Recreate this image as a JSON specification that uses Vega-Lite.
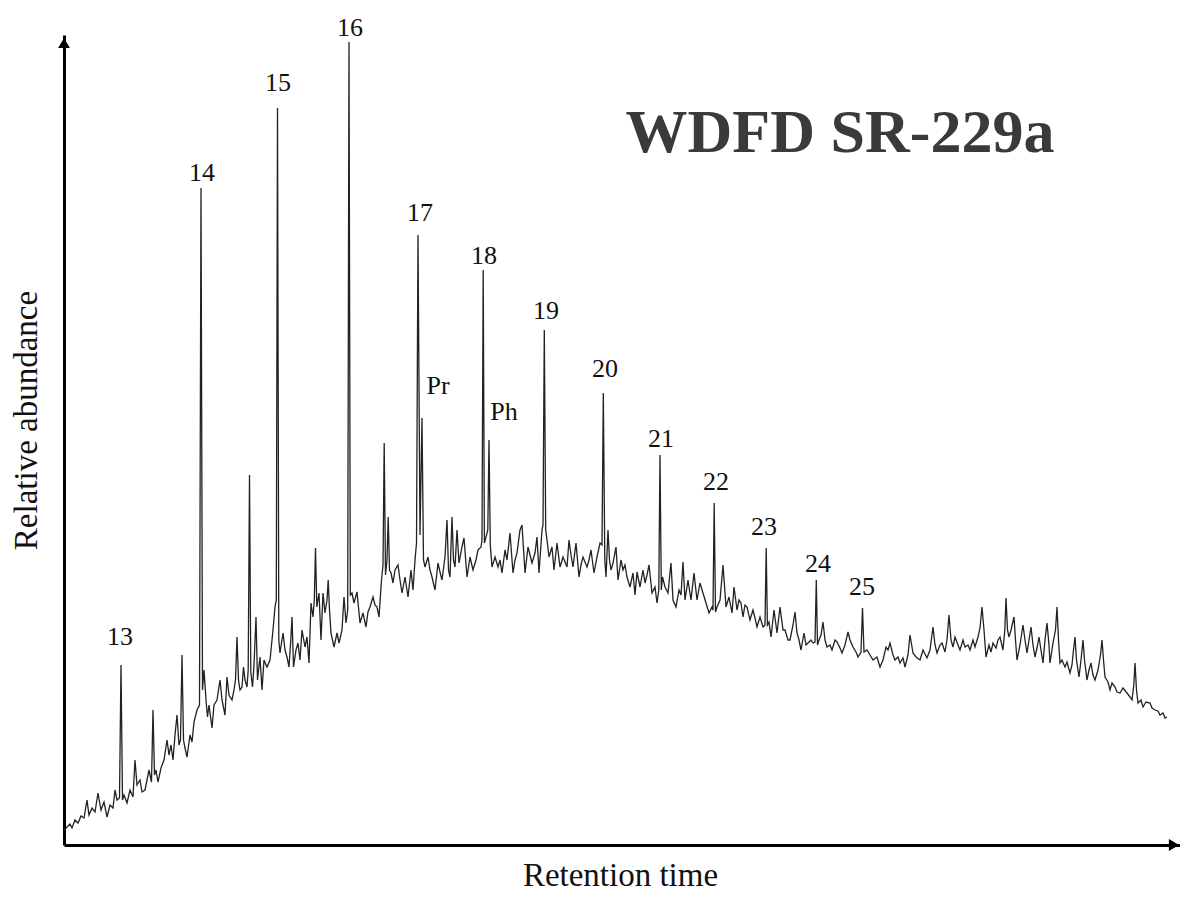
{
  "$schema": "https://vega.github.io/schema/vega-lite/v6.json",
  "width": 1116,
  "height": 810,
  "autosize": {"type": "none"},
  "padding": {"left": 64, "top": 35, "right": 0, "bottom": 53},
  "background": "white",
  "config": {"view": {"stroke": null}},
  "datasets": {
    "trace": [
      {"t":64,"a":15},{"t":67,"a":18},{"t":70,"a":21},{"t":72,"a":17},{"t":75,"a":25},{"t":78,"a":22},{"t":81,"a":29},{"t":84,"a":27},{"t":87,"a":45},{"t":89,"a":30},
      {"t":92,"a":37},{"t":95,"a":33},{"t":98,"a":52},{"t":101,"a":35},{"t":104,"a":43},{"t":107,"a":28},{"t":110,"a":40},{"t":113,"a":37},{"t":115,"a":55},{"t":117,"a":45},
      {"t":119.5,"a":47},{"t":121,"a":180},{"t":122.5,"a":45},{"t":124,"a":50},{"t":127,"a":42},{"t":130,"a":55},{"t":133,"a":48},{"t":135,"a":85},{"t":137,"a":60},{"t":140,"a":65},
      {"t":142,"a":53},{"t":145,"a":55},{"t":147,"a":65},{"t":149,"a":75},{"t":151.5,"a":63},{"t":153,"a":135},{"t":154.5,"a":70},{"t":156,"a":75},{"t":158,"a":63},{"t":161,"a":77},
      {"t":164,"a":85},{"t":167,"a":105},{"t":169,"a":90},{"t":171,"a":100},{"t":173,"a":85},{"t":175,"a":110},{"t":177,"a":130},{"t":179,"a":100},{"t":180.5,"a":105},{"t":182,"a":190},
      {"t":183.5,"a":105},{"t":185,"a":97},{"t":187,"a":88},{"t":190,"a":110},{"t":192,"a":103},{"t":194,"a":123},{"t":197,"a":135},{"t":199.5,"a":140},{"t":201,"a":657},{"t":202.5,"a":155},
      {"t":204,"a":175},{"t":206,"a":145},{"t":207.5,"a":128},{"t":209,"a":140},{"t":212,"a":117},{"t":214,"a":140},{"t":217,"a":145},{"t":220,"a":165},{"t":222,"a":145},{"t":225,"a":130},
      {"t":227,"a":168},{"t":229,"a":150},{"t":232,"a":145},{"t":234,"a":155},{"t":235.5,"a":165},{"t":237,"a":208},{"t":238.5,"a":165},{"t":240,"a":155},{"t":242,"a":158},{"t":243.5,"a":178},
      {"t":245,"a":165},{"t":247,"a":158},{"t":248.2,"a":175},{"t":249.5,"a":370},{"t":250.8,"a":173},{"t":252.5,"a":158},{"t":254,"a":180},{"t":256,"a":228},{"t":257.5,"a":165},{"t":260,"a":188},
      {"t":262,"a":155},{"t":264,"a":185},{"t":267,"a":178},{"t":270,"a":185},{"t":273,"a":215},{"t":275,"a":238},{"t":276.3,"a":245},{"t":277.5,"a":737},{"t":278.8,"a":205},{"t":280,"a":192},
      {"t":283,"a":212},{"t":285,"a":195},{"t":287,"a":188},{"t":289,"a":178},{"t":290.8,"a":205},{"t":292,"a":228},{"t":293.5,"a":178},{"t":296,"a":195},{"t":298,"a":202},{"t":300,"a":185},
      {"t":302,"a":215},{"t":305,"a":198},{"t":307,"a":208},{"t":309,"a":182},{"t":311,"a":242},{"t":313,"a":228},{"t":314.3,"a":245},{"t":315.5,"a":297},{"t":316.8,"a":238},{"t":319,"a":252},
      {"t":321,"a":205},{"t":323,"a":252},{"t":325,"a":232},{"t":327,"a":245},{"t":328.2,"a":265},{"t":329.5,"a":235},{"t":331,"a":212},{"t":334,"a":198},{"t":337,"a":212},{"t":339,"a":202},
      {"t":342,"a":215},{"t":344,"a":248},{"t":346,"a":222},{"t":347.7,"a":235},{"t":349,"a":803},{"t":350.3,"a":250},{"t":352,"a":252},{"t":354,"a":242},{"t":357,"a":253},{"t":360,"a":222},
      {"t":363,"a":232},{"t":366,"a":218},{"t":368,"a":233},{"t":370,"a":238},{"t":373,"a":248},{"t":375,"a":240},{"t":377,"a":238},{"t":379,"a":228},{"t":381.5,"a":265},{"t":383,"a":280},
      {"t":384.2,"a":402},{"t":385.5,"a":270},{"t":387,"a":285},{"t":388.2,"a":328},{"t":389.5,"a":275},{"t":391,"a":272},{"t":393,"a":262},{"t":395,"a":275},{"t":398,"a":280},{"t":400,"a":265},
      {"t":402,"a":252},{"t":405,"a":268},{"t":408,"a":248},{"t":411,"a":275},{"t":413,"a":255},{"t":415,"a":285},{"t":416.5,"a":302},{"t":418,"a":610},{"t":420,"a":310},{"t":422,"a":427},
      {"t":423.5,"a":285},{"t":425,"a":278},{"t":428,"a":288},{"t":430,"a":275},{"t":432,"a":268},{"t":435,"a":255},{"t":438,"a":282},{"t":440,"a":273},{"t":442,"a":265},{"t":445,"a":288},
      {"t":447,"a":325},{"t":448.5,"a":275},{"t":450,"a":268},{"t":452,"a":328},{"t":453.5,"a":285},{"t":455,"a":278},{"t":457,"a":315},{"t":459,"a":282},{"t":462,"a":298},{"t":464,"a":307},
      {"t":467,"a":268},{"t":470,"a":288},{"t":473,"a":275},{"t":476,"a":285},{"t":478,"a":295},{"t":481,"a":298},{"t":482,"a":305},{"t":483.2,"a":575},{"t":484.4,"a":302},{"t":486,"a":308},
      {"t":487.8,"a":315},{"t":489,"a":405},{"t":490.3,"a":300},{"t":492,"a":278},{"t":495,"a":288},{"t":498,"a":278},{"t":500,"a":285},{"t":502,"a":272},{"t":505,"a":295},{"t":507,"a":285},
      {"t":510,"a":312},{"t":513,"a":272},{"t":515,"a":285},{"t":517,"a":292},{"t":520,"a":315},{"t":522,"a":320},{"t":525,"a":272},{"t":528,"a":298},{"t":530,"a":290},{"t":532,"a":282},
      {"t":535,"a":292},{"t":537,"a":308},{"t":539,"a":272},{"t":542,"a":315},{"t":543,"a":320},{"t":544.3,"a":515},{"t":545.7,"a":315},{"t":547,"a":305},{"t":549,"a":288},{"t":552,"a":298},
      {"t":554,"a":275},{"t":557,"a":302},{"t":560,"a":278},{"t":563,"a":288},{"t":565,"a":283},{"t":567,"a":278},{"t":569,"a":305},{"t":571,"a":290},{"t":573,"a":278},{"t":576,"a":302},
      {"t":579,"a":268},{"t":581,"a":280},{"t":583,"a":288},{"t":587,"a":278},{"t":589,"a":285},{"t":591,"a":295},{"t":594,"a":272},{"t":597,"a":288},{"t":600,"a":302},{"t":602,"a":300},
      {"t":603.3,"a":452},{"t":604.8,"a":285},{"t":606,"a":268},{"t":608,"a":315},{"t":609.5,"a":285},{"t":611,"a":275},{"t":613,"a":282},{"t":616,"a":298},{"t":618,"a":265},{"t":621,"a":285},
      {"t":623,"a":275},{"t":625,"a":280},{"t":627,"a":268},{"t":630,"a":258},{"t":633,"a":272},{"t":635,"a":250},{"t":637,"a":273},{"t":640,"a":258},{"t":643,"a":275},{"t":645,"a":262},
      {"t":647,"a":270},{"t":649,"a":280},{"t":652,"a":252},{"t":655,"a":258},{"t":657,"a":242},{"t":658.8,"a":255},{"t":660,"a":390},{"t":661.3,"a":255},{"t":662.5,"a":268},{"t":665,"a":258},
      {"t":668,"a":252},{"t":671,"a":282},{"t":673,"a":245},{"t":676,"a":238},{"t":679,"a":255},{"t":681,"a":250},{"t":683,"a":283},{"t":685,"a":245},{"t":688,"a":265},{"t":691,"a":245},
      {"t":694,"a":272},{"t":697,"a":245},{"t":700,"a":262},{"t":703,"a":252},{"t":706,"a":242},{"t":709,"a":232},{"t":712,"a":238},{"t":713,"a":235},{"t":714.2,"a":342},{"t":715.5,"a":233},
      {"t":717,"a":238},{"t":720,"a":245},{"t":723,"a":280},{"t":726,"a":238},{"t":729,"a":248},{"t":732,"a":232},{"t":734,"a":258},{"t":737,"a":235},{"t":739,"a":245},{"t":741,"a":242},
      {"t":743,"a":228},{"t":745,"a":240},{"t":747,"a":238},{"t":750,"a":225},{"t":753,"a":235},{"t":755,"a":227},{"t":757,"a":218},{"t":760,"a":228},{"t":763,"a":218},{"t":765,"a":220},
      {"t":766.2,"a":297},{"t":767.4,"a":220},{"t":769,"a":223},{"t":771,"a":208},{"t":774,"a":235},{"t":777,"a":212},{"t":780,"a":238},{"t":783,"a":215},{"t":785,"a":215},{"t":788,"a":205},
      {"t":790,"a":205},{"t":793,"a":220},{"t":795,"a":233},{"t":797,"a":212},{"t":799,"a":205},{"t":801,"a":195},{"t":804,"a":212},{"t":806,"a":200},{"t":808,"a":202},{"t":811,"a":205},
      {"t":813,"a":202},{"t":815,"a":203},{"t":816.3,"a":265},{"t":817.5,"a":200},{"t":819,"a":205},{"t":821,"a":210},{"t":823,"a":223},{"t":825,"a":205},{"t":827,"a":198},{"t":830,"a":200},
      {"t":832,"a":195},{"t":835,"a":205},{"t":837,"a":203},{"t":840,"a":197},{"t":842,"a":192},{"t":845,"a":200},{"t":848,"a":213},{"t":850,"a":205},{"t":853,"a":198},{"t":856,"a":193},
      {"t":858,"a":188},{"t":861,"a":193},{"t":862.5,"a":237},{"t":864,"a":193},{"t":867,"a":195},{"t":870,"a":190},{"t":873,"a":185},{"t":877,"a":188},{"t":880,"a":178},{"t":883,"a":185},
      {"t":886,"a":198},{"t":888,"a":195},{"t":890,"a":202},{"t":893,"a":190},{"t":895,"a":185},{"t":898,"a":188},{"t":900,"a":182},{"t":903,"a":187},{"t":905,"a":178},{"t":908,"a":190},
      {"t":910,"a":210},{"t":913,"a":192},{"t":916,"a":188},{"t":920,"a":185},{"t":923,"a":195},{"t":927,"a":187},{"t":930,"a":195},{"t":933,"a":218},{"t":935,"a":200},{"t":937,"a":192},
      {"t":940,"a":200},{"t":942,"a":202},{"t":945,"a":193},{"t":947,"a":205},{"t":949,"a":230},{"t":951,"a":205},{"t":953,"a":198},{"t":955,"a":208},{"t":958,"a":200},{"t":960,"a":195},
      {"t":963,"a":205},{"t":965,"a":198},{"t":968,"a":200},{"t":970,"a":195},{"t":973,"a":205},{"t":975,"a":198},{"t":978,"a":208},{"t":980,"a":217},{"t":982,"a":238},{"t":984,"a":215},
      {"t":986,"a":188},{"t":989,"a":200},{"t":991,"a":193},{"t":993,"a":202},{"t":996,"a":197},{"t":998,"a":205},{"t":1000,"a":208},{"t":1003,"a":195},{"t":1004.8,"a":215},{"t":1006,"a":247},
      {"t":1007.5,"a":215},{"t":1009,"a":208},{"t":1011,"a":215},{"t":1014,"a":228},{"t":1015.5,"a":205},{"t":1017,"a":185},{"t":1020,"a":200},{"t":1023,"a":220},{"t":1025,"a":205},{"t":1027,"a":192},
      {"t":1029,"a":205},{"t":1031,"a":218},{"t":1033,"a":200},{"t":1035,"a":188},{"t":1037,"a":197},{"t":1039,"a":208},{"t":1041,"a":195},{"t":1043,"a":182},{"t":1045,"a":205},{"t":1047,"a":222},
      {"t":1049,"a":200},{"t":1050,"a":182},{"t":1053,"a":202},{"t":1055.5,"a":215},{"t":1057,"a":238},{"t":1058.5,"a":205},{"t":1060,"a":182},{"t":1062,"a":185},{"t":1065,"a":178},{"t":1067,"a":183},
      {"t":1070,"a":172},{"t":1072,"a":180},{"t":1073.5,"a":195},{"t":1075,"a":208},{"t":1076.5,"a":185},{"t":1079,"a":168},{"t":1081,"a":185},{"t":1083,"a":205},{"t":1084.5,"a":185},{"t":1087,"a":165},
      {"t":1089,"a":175},{"t":1091,"a":182},{"t":1093,"a":170},{"t":1095,"a":165},{"t":1098,"a":175},{"t":1100.5,"a":190},{"t":1102,"a":205},{"t":1103.5,"a":185},{"t":1105,"a":168},{"t":1108,"a":163},
      {"t":1110,"a":155},{"t":1112,"a":162},{"t":1115,"a":158},{"t":1117,"a":153},{"t":1120,"a":152},{"t":1123,"a":157},{"t":1127,"a":152},{"t":1130,"a":148},{"t":1132,"a":145},{"t":1133.8,"a":160},
      {"t":1135,"a":182},{"t":1136.5,"a":155},{"t":1138,"a":142},{"t":1141,"a":145},{"t":1143,"a":138},{"t":1146,"a":143},{"t":1150,"a":142},{"t":1152,"a":137},{"t":1155,"a":135},{"t":1158,"a":134},
      {"t":1160,"a":130},{"t":1163,"a":132},{"t":1165,"a":127},{"t":1167,"a":128}
    ],
    "labels": [
      {"label":"13","t":120,"a":200},
      {"label":"14","t":202,"a":664},
      {"label":"15","t":278,"a":754},
      {"label":"16","t":350,"a":809},
      {"label":"17","t":420,"a":624},
      {"label":"18","t":484,"a":581},
      {"label":"19","t":546,"a":526},
      {"label":"20","t":605,"a":468},
      {"label":"21","t":661,"a":398},
      {"label":"22","t":716,"a":355},
      {"label":"23","t":764,"a":310},
      {"label":"24","t":818,"a":273},
      {"label":"25","t":862,"a":250},
      {"label":"Pr","t":438,"a":451},
      {"label":"Ph","t":504,"a":425}
    ],
    "heading": [{"label":"WDFD SR-229a","t":840,"a":693}],
    "arrows": [
      {"t":64,"a":802,"shape":"triangle-up"},
      {"t":1174,"a":0,"shape":"triangle-right"}
    ]
  },
  "encoding": {
    "x": {
      "field": "t", "type": "quantitative",
      "scale": {"domain": [64, 1180], "nice": false, "zero": false},
      "axis": {
        "title": "Retention time", "labels": false, "ticks": false, "grid": false,
        "domain": true, "domainColor": "#000", "domainWidth": 3,
        "titleFont": "Liberation Serif", "titleFontSize": 33, "titleFontWeight": "normal",
        "titleColor": "#111", "titleBaseline": "middle", "titleAlign": "center",
        "titleX": 556, "titleY": 30
      }
    },
    "y": {
      "field": "a", "type": "quantitative",
      "scale": {"domain": [0, 810], "nice": false, "zero": false},
      "axis": {
        "title": "Relative abundance", "labels": false, "ticks": false, "grid": false,
        "domain": true, "domainColor": "#000", "domainWidth": 3,
        "titleFont": "Liberation Serif", "titleFontSize": 33, "titleFontWeight": "normal",
        "titleColor": "#111", "titleBaseline": "middle", "titleAlign": "center", "titleAngle": -90,
        "titleX": -38, "titleY": 385
      }
    }
  },
  "layer": [
    {
      "data": {"name": "trace"},
      "mark": {"type": "line", "color": "#222", "strokeWidth": 1.3, "interpolate": "linear"}
    },
    {
      "data": {"name": "labels"},
      "mark": {"type": "text", "font": "Liberation Serif", "fontSize": 26, "color": "#111", "align": "center", "baseline": "alphabetic"},
      "encoding": {"text": {"field": "label"}}
    },
    {
      "data": {"name": "heading"},
      "mark": {"type": "text", "font": "Liberation Serif", "fontSize": 62, "fontWeight": "bold", "color": "#3a3a3a", "align": "center", "baseline": "alphabetic"},
      "encoding": {"text": {"field": "label"}}
    },
    {
      "data": {"name": "arrows"},
      "mark": {"type": "point", "filled": true, "color": "#000", "size": 140, "opacity": 1},
      "encoding": {"shape": {"field": "shape", "type": "nominal", "scale": null}}
    }
  ]
}
